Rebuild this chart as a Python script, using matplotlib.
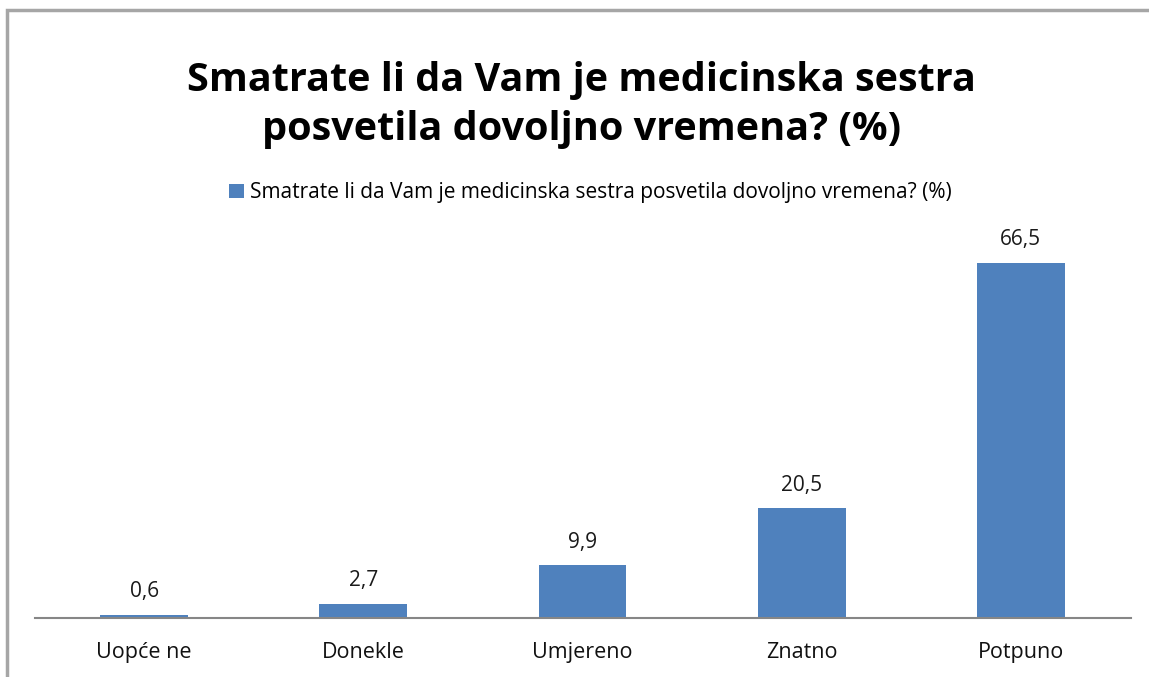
import matplotlib.pyplot as plt
from matplotlib.patches import Rectangle

categories = ['Uopće ne', 'Donekle', 'Umjereno', 'Znatno', 'Potpuno']
values = [0.6, 2.7, 9.9, 20.5, 66.5]
series_name = 'Smatrate li da Vam je medicinska sestra posvetila dovoljno vremena? (%)'
title = 'Smatrate li da Vam je medicinska sestra\nposvetila dovoljno vremena? (%)'

plt.rcParams['font.family'] = ['Open Sans', 'DejaVu Sans']

fig = plt.figure(figsize=(11.49, 6.77), dpi=100)
# outer chart border (cut off at right and bottom)
fig.patches.append(Rectangle((7 / 1149, -0.05), 1.2, 1 - 10 / 677 + 0.05,
                             transform=fig.transFigure, fill=False,
                             edgecolor='#a6a6a6', linewidth=2.5))

ax = fig.add_axes([34.5 / 1149, 59 / 677, 1096 / 1149, 374 / 677])
x = range(len(categories))
bars = ax.bar(x, values, width=0.4, color='#4f81bd', label=series_name)
ax.set_xlim(-0.5, 4.5)
ax.set_ylim(0, 70)

for b, v in zip(bars, values):
    ax.annotate(f'{v:.1f}'.replace('.', ','), (b.get_x() + b.get_width() / 2, v),
                xytext=(0, 9), textcoords='offset points', ha='center', va='bottom',
                fontsize=15, color='#1a1a1a')

ax.set_xticks(list(x))
ax.set_xticklabels(categories, fontsize=15.5, color='#111111', fontweight='medium')
ax.tick_params(axis='x', length=0, pad=17)
ax.set_yticks([])
for s in ['top', 'right', 'left']:
    ax.spines[s].set_visible(False)
ax.spines['bottom'].set_color('#868686')
ax.spines['bottom'].set_linewidth(1.5)

fig.text(0.506, 1 - 105 / 677, title, ha='center', va='center', fontsize=28.5,
         fontweight='bold', linespacing=1.35)
fig.legend(loc='center', bbox_to_anchor=(0.514, 1 - 193 / 677), frameon=False,
           fontsize=15, handlelength=0.7, handleheight=0.7, handletextpad=0.3)

fig.savefig('out.png', dpi=100)
